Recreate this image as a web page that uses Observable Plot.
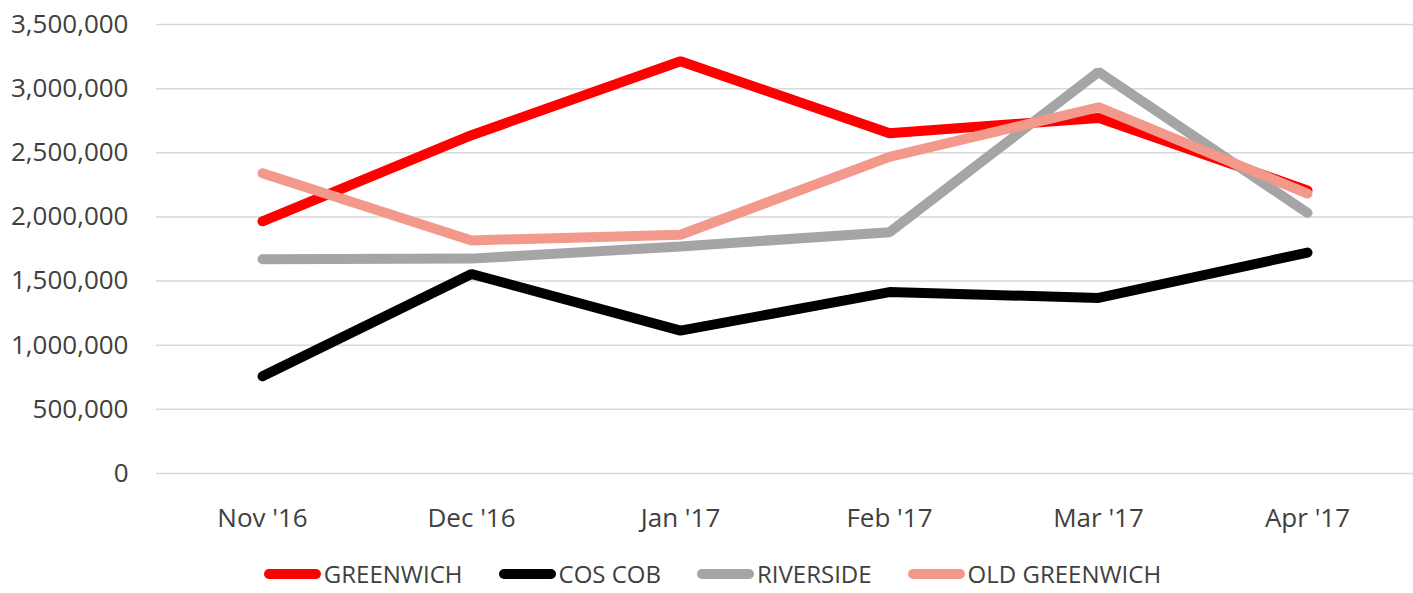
<!DOCTYPE html>
<html>
<head>
<meta charset="utf-8">
<script src="https://cdn.jsdelivr.net/npm/d3@7"></script>
<script src="https://cdn.jsdelivr.net/npm/@observablehq/plot@0.6"></script>
<style>
  html, body { margin: 0; padding: 0; background: #fff; }
  #wrap { width: 1413px; height: 593px; overflow: hidden; font-family: "Open Sans", sans-serif; }
  #legend { display: flex; justify-content: center; align-items: center; height: 43px; padding-left: 12px; box-sizing: border-box; padding-top: 4px; }
  .item { display: flex; align-items: center; margin: 0 18px; }
  .sw { width: 57px; height: 10px; border-radius: 5px; margin-right: 3px; }
  .lab { font-size: 24px; color: #404040; line-height: 1; }
</style>
</head>
<body>
<div id="wrap">
  <div id="chart"></div>
  <div id="legend"></div>
</div>
<script>
const months = ["Nov '16", "Dec '16", "Jan '17", "Feb '17", "Mar '17", "Apr '17"];
const seriesNames = ["GREENWICH", "COS COB", "RIVERSIDE", "OLD GREENWICH"];
const seriesColors = ["#FF0000", "#000000", "#A5A5A5", "#F3998B"];
const greenwich = [1966000, 2637000, 3214000, 2652000, 2772000, 2207000];
const cosCob = [758000, 1555000, 1114000, 1414000, 1369000, 1722000];
const riverside = [1670000, 1675000, 1770000, 1881000, 3130000, 2032000];
const oldGreenwich = [2340000, 1817000, 1861000, 2468000, 2855000, 2182000];
const yTicks = [0, 500000, 1000000, 1500000, 2000000, 2500000, 3000000, 3500000];

const seriesValues = [greenwich, cosCob, riverside, oldGreenwich];
const data = [];
seriesNames.forEach((name, si) => {
  months.forEach((m, i) => data.push({ series: name, month: m, value: seriesValues[si][i] }));
});

const chart = Plot.plot({
  width: 1413,
  height: 550,
  marginTop: 24,
  marginBottom: 77,
  marginLeft: 156,
  marginRight: 0,
  style: { fontFamily: "'Open Sans', sans-serif", fontSize: "26px", color: "#404040", background: "#fff" },
  x: { type: "point", domain: months, padding: 0.5, label: null },
  y: { domain: [0, 3500000], label: null },
  color: { domain: seriesNames, range: seriesColors },
  marks: [
    Plot.gridY(yTicks, { stroke: "#D9D9D9", strokeOpacity: 1, strokeWidth: 1.5 }),
    Plot.axisY(yTicks, { tickSize: 0, tickPadding: 28, tickFormat: d3.format(","), label: null, fill: "#404040", fontSize: 26 }),
    Plot.axisX({ tickSize: 0, tickPadding: 35, label: null, fill: "#404040", fontSize: 26 }),
    Plot.line(data, {
      x: "month", y: "value", z: "series", stroke: "series",
      strokeWidth: 10, strokeLinecap: "round", strokeLinejoin: "miter"
    })
  ]
});
document.getElementById("chart").appendChild(chart);

const legend = document.getElementById("legend");
seriesNames.forEach((name, i) => {
  const item = document.createElement("div");
  item.className = "item";
  const sw = document.createElement("div");
  sw.className = "sw";
  sw.style.background = seriesColors[i];
  const lab = document.createElement("span");
  lab.className = "lab";
  lab.textContent = name;
  item.appendChild(sw);
  item.appendChild(lab);
  legend.appendChild(item);
});
</script>
</body>
</html>
